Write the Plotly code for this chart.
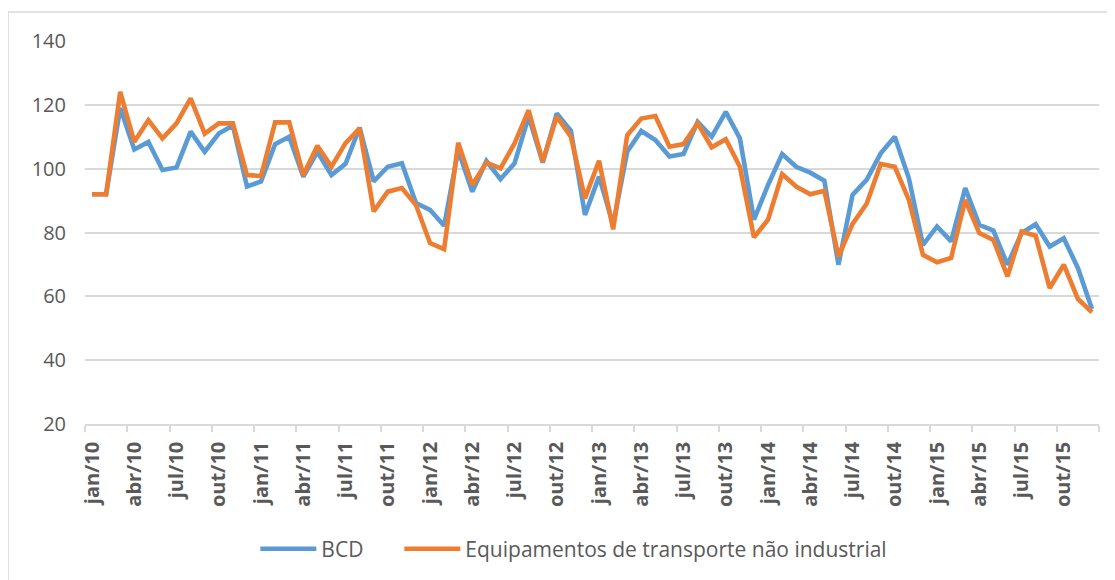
import plotly.graph_objects as go

month_abbr = ["jan", "fev", "mar", "abr", "mai", "jun", "jul", "ago", "set", "out", "nov", "dez"]
years = ["10", "11", "12", "13", "14", "15"]
months = [f"{m}/{y}" for y in years for m in month_abbr]

bcd = [92, 92, 119, 106, 108.4, 99.6, 100.4, 111.6, 105.3, 111, 113.5, 94.4,
       96, 107.7, 110, 97.5, 105.3, 98, 101.5, 112.9, 96, 100.6, 101.7, 89.2,
       87.1, 82.1, 105.8, 92.8, 102.4, 96.7, 101.7, 116.3, 101.9, 117.3, 111.9, 85.5,
       97.5, 82.5, 105.3, 111.8, 109, 103.8, 104.6, 114.7, 110, 117.8, 109.5, 84,
       94.9, 104.6, 100.6, 98.75, 96.25, 69.9, 91.8, 96.5, 104.8, 110, 97, 76.1,
       81.9, 77.2, 93.9, 82.4, 80.6, 69.9, 79.8, 82.6, 75.6, 78.2, 68.9, 56]

equip = [92, 92, 124.1, 108.4, 115.2, 109.5, 114.2, 122, 111, 114.2, 114.2, 98,
         97.7, 114.5, 114.5, 98, 107.2, 100.6, 108, 112.6, 86.6, 92.8, 93.9, 88.6,
         76.7, 74.8, 108.1, 94.9, 101.9, 100.1, 107.9, 118.3, 102.2, 116.3, 110, 90.7,
         102.5, 81, 110.5, 115.7, 116.5, 106.9, 107.7, 114.2, 106.7, 109.2, 100.6, 78.5,
         84, 98.3, 94.4, 92, 93.1, 72.5, 82.7, 89, 101.5, 100.6, 90.2, 73,
         70.7, 72, 90.2, 79.8, 77.7, 66.25, 80.3, 79, 62.6, 69.9, 59.2, 55]

series_names = ["BCD", "Equipamentos de transporte não industrial"]
colors = ["#5B9BD5", "#ED7D31"]
y_ticks = [20, 40, 60, 80, 100, 120, 140]

x_idx = list(range(len(months)))
text_color = "#595959"
grid_color = "#d9d9d9"
font_family = "Open Sans"

fig = go.Figure()
for name, vals, col, leg in zip(series_names, [bcd, equip], colors, ["legend", "legend2"]):
    fig.add_trace(go.Scatter(
        x=x_idx, y=vals, mode="lines", name=name, legend=leg,
        line=dict(color=col, width=4.6),
    ))

legend_common = dict(
    orientation="h", xanchor="left", y=-0.323, yanchor="middle",
    font=dict(family=font_family, size=21, color=text_color),
    bgcolor="rgba(0,0,0,0)",
    itemwidth=56,
)

fig.update_layout(
    width=1107, height=572,
    margin=dict(l=77, r=16, t=33, b=155),
    paper_bgcolor="white", plot_bgcolor="white",
    font=dict(family=font_family, color=text_color, size=20),
    legend=dict(x=0.168, **legend_common),
    legend2=dict(x=0.310, **legend_common),
    showlegend=True,
)

fig.update_xaxes(
    range=[-0.5, len(months) - 0.5],
    tickmode="array",
    tickvals=x_idx[::3],
    ticktext=months[::3],
    tickangle=-90,
    ticks="",
    ticklabelstandoff=8,
    tickfont=dict(family=font_family, size=20, color=text_color, weight="bold"),
    showgrid=False,
    zeroline=False,
    showline=True, linecolor=grid_color, linewidth=1.5,
    minor=dict(ticks="outside", tick0=-0.5, dtick=3, ticklen=6,
               tickcolor=grid_color, tickwidth=1.5, showgrid=False),
)

fig.update_yaxes(
    range=[20, 140],
    tickmode="array",
    tickvals=y_ticks,
    ticks="",
    ticklabelstandoff=18,
    tickfont=dict(family=font_family, size=20, color=text_color),
    showgrid=True, gridcolor=grid_color, gridwidth=1.5,
    zeroline=False,
    showline=False,
)

fig.add_shape(
    type="rect", xref="paper", yref="paper",
    x0=-0.0759, x1=1.05, y0=-0.45, y1=1.0755,
    line=dict(color=grid_color, width=1.5),
    fillcolor="rgba(0,0,0,0)", layer="below",
)

fig.write_html("out.html")
